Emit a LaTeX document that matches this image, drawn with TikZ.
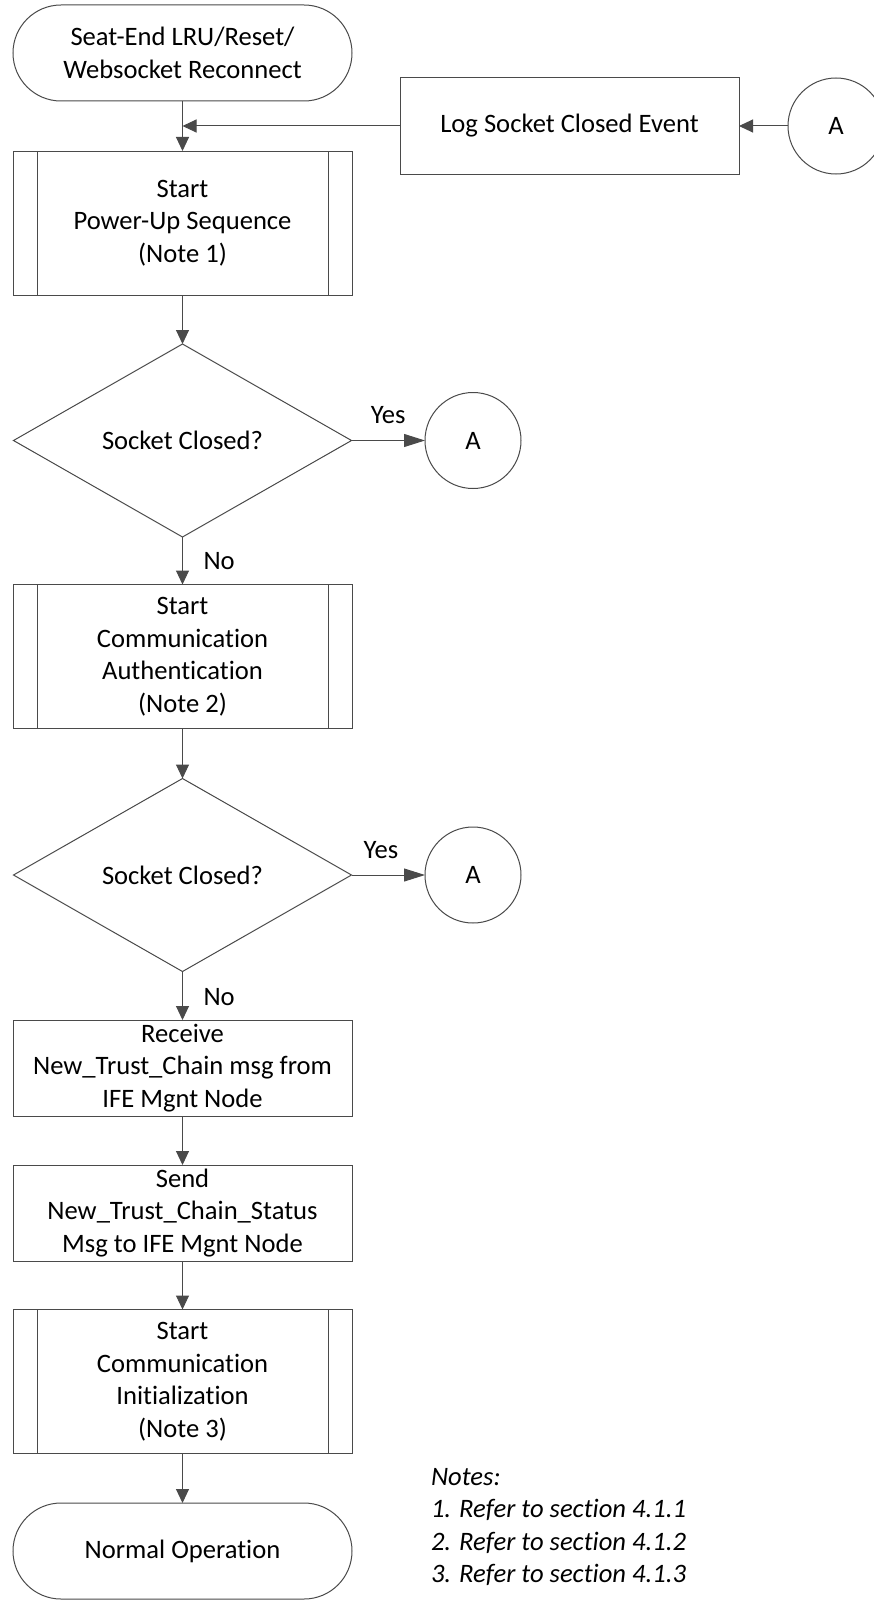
\documentclass[tikz,border=0pt]{standalone}
\usepackage{fontspec}
\setmainfont[Ligatures={NoCommon}]{Carlito}
\usetikzlibrary{shapes.geometric,arrows.meta}
\definecolor{linegray}{HTML}{4A4A4A}
\begin{document}
\begin{tikzpicture}[x=1pt,y=-1pt,
  font=\fontsize{26.6}{32.5}\selectfont,
  every node/.style={inner sep=0pt, outer sep=0pt},
  shapebase/.style={draw=linegray, line width=1pt, align=center},
  terminal/.style={shapebase, rectangle, rounded corners=48pt, minimum width=339pt, minimum height=96pt},
  procbox/.style={shapebase, rectangle, minimum width=339pt, minimum height=96pt},
  subproc/.style={shapebase, rectangle, minimum width=339pt, minimum height=144pt,
    path picture={\draw[linegray, line width=1pt]
      ([xshift=24pt]path picture bounding box.north west) -- ([xshift=24pt]path picture bounding box.south west)
      ([xshift=-24pt]path picture bounding box.north east) -- ([xshift=-24pt]path picture bounding box.south east);}},
  decision/.style={shapebase, diamond, aspect=1.75, minimum width=338pt, minimum height=193pt},
  connector/.style={shapebase, circle, minimum size=96pt},
  flow/.style={draw=linegray, line width=1pt, -{Triangle[length=14pt,width=13pt]}},
  yesflow/.style={draw=linegray, line width=1pt, -{Triangle[length=21pt,width=13pt]}},
  lbl/.style={font=\fontsize{26.6}{32.5}\selectfont},
  note/.style={font=\fontsize{26.6}{32.5}\selectfont\itshape, anchor=base west}
]
\useasboundingbox (0,0) rectangle (874,1600);

\node[terminal] (start) at (182.5,53) {Seat-End LRU/Reset/\\Websocket Reconnect};
\node[procbox] (log) at (569.5,126) {Log Socket Closed Event};
\node[connector] (A0) at (836,126) {A};
\coordinate (merge) at (182.5,126);

\node[subproc] (sp1) at (182.5,223) {Start\\Power-Up Sequence\\(Note 1)};
\node[decision] (d1) at (182.5,440.5) {Socket Closed?};
\node[connector] (A1) at (473,440.5) {A};

\node[subproc] (sp2) at (182.5,656.5) {Start\\Communication\\Authentication\\(Note 2)};
\node[decision] (d2) at (182.5,875) {Socket Closed?};
\node[connector] (A2) at (473,875) {A};

\node[procbox] (recv) at (182.5,1068) {Receive\\New\_Trust\_Chain msg from\\IFE Mgnt Node};
\node[procbox] (send) at (182.5,1213) {Send\\New\_Trust\_Chain\_Status\\Msg to IFE Mgnt Node};
\node[subproc] (sp3) at (182.5,1381.5) {Start\\Communication\\Initialization\\(Note 3)};
\node[terminal] (finish) at (182.5,1551) {Normal Operation};

\node[note] (n0) at (431,1485) {Notes:};
\node[note] (n1) at (431,1517) {1. Refer to section 4.1.1};
\node[note] (n2) at (431,1550) {2. Refer to section 4.1.2};
\node[note] (n3) at (431,1582) {3. Refer to section 4.1.3};

% connectors
\draw[flow] (start) -- (sp1);
\draw[flow] (A0) -- (log);
\draw[flow] (log) -- (merge);
\draw[flow] (sp1) -- (d1);
\draw[yesflow] (d1) -- node[lbl, pos=0.5, anchor=base, yshift=17pt] {Yes} (A1);
\draw[flow] (d1) -- node[lbl, pos=0.5, anchor=base west, xshift=21pt, yshift=-8.5pt] {No} (sp2);
\draw[flow] (sp2) -- (d2);
\draw[yesflow] (d2) -- node[lbl, pos=0.4, anchor=base, yshift=17pt] {Yes} (A2);
\draw[flow] (d2) -- node[lbl, pos=0.5, anchor=base west, xshift=21pt, yshift=-9.5pt] {No} (recv);
\draw[flow] (recv) -- (send);
\draw[flow] (send) -- (sp3);
\draw[flow] (sp3) -- (finish);
\end{tikzpicture}
\end{document}
